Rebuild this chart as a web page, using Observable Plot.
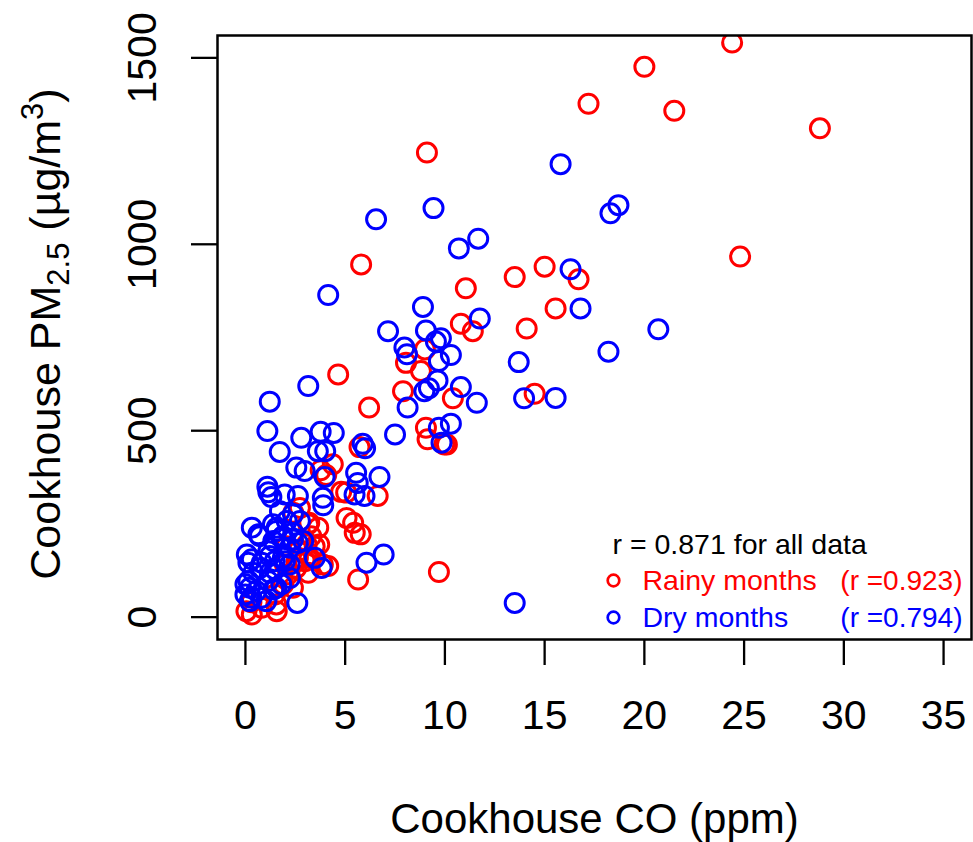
<!DOCTYPE html>
<html>
<head>
<meta charset="utf-8">
<script src="https://cdn.jsdelivr.net/npm/d3@7"></script>
<script src="https://cdn.jsdelivr.net/npm/@observablehq/plot@0.6"></script>
<style>
html, body { margin: 0; padding: 0; background: #fff; }
#chart svg { display: block; }
</style>
</head>
<body>
<div id="chart"></div>
<script>
// ---- data ----
const rainyCO = [24.4, 20.0, 17.2, 21.5, 28.8, 24.8, 13.5, 15.0, 16.7, 15.55, 14.1, 11.05, 10.8, 11.4, 9.0, 8.05, 8.8, 7.9, 10.4, 14.5,
  9.05, 9.13, 9.97, 10.1, 9.7, 9.1, 5.8, 4.65, 6.2, 5.72, 4.38, 3.77, 4.05, 4.8, 5.05, 6.63, 5.07, 5.4, 5.78, 5.48,
  3.65, 3.7, 4.15, 5.65, 2.4, 2.73, 3.15, 3.3, 3.07, 2.65, 2.98, 3.15, 2.15, 1.9, 1.48, 1.57, 0.32, 0.82, 1.98, 2.57,
  3.2, 3.47, 2.05, 2.63, 3.22, 3.88, 2.55, 2.38, 1.55, 0.05, 0.3];
const rainyPM = [1541, 1476, 1377, 1358, 1311, 967, 912, 940, 906, 828, 774, 882, 787, 767, 718, 682, 660, 606, 587, 599,
  508, 477, 463, 463, 121, 1246, 946, 651, 562, 456, 410, 394, 381, 336, 334, 325, 266, 253, 222, 226,
  240, 195, 137, 101, 280, 293, 249, 217, 195, 177, 150, 119, 115, 88, 61, 16, 7, 25, 141, 150,
  253, 190, 190, 159, 159, 141, 132, 79, 34, 16, 40];
const dryCO = [15.8, 18.7, 18.3, 16.3, 16.8, 20.7, 18.2, 13.7, 8.9, 11.75, 9.05, 9.8, 9.55, 7.97, 8.1, 10.3, 9.7, 9.63, 9.2, 8.97,
  10.8, 11.6, 8.13, 13.97, 15.55, 9.7, 10.3, 9.83, 7.5, 13.5, 9.43, 6.55, 10.7, 11.67, 4.15, 7.15, 3.15, 1.22, 1.1, 2.8,
  3.77, 4.43, 5.88, 6.0, 1.72, 3.63, 4.0, 2.55, 2.97, 3.97, 5.55, 5.63, 6.72, 5.47, 5.97, 1.1, 1.15, 1.97, 2.63, 3.88,
  1.3, 3.9, 3.48, 3.82, 6.07, 6.93, 2.6, 0.32, 0.65, 0.07, 0.32, 0.15, 1.73, 2.07, 2.4, 1.57, 1.82, 2.23, 2.73, 2.9,
  1.4, 1.15, 0.82, 1.98, 1.48, 2.23, 0.4, 0.15, 0.0, 0.0, 0.3, 0.8, 1.4, 1.8, 1.15, 2.38, 1.38, 1.55, 1.88, 2.38,
  2.63, 1.22, 1.47, 1.88, 2.22, 0.72, 1.22, 0.22, 0.55, 1.55, 1.05, 0.22, 0.72];
const dryPM = [1215, 1105, 1083, 933, 828, 772, 712, 684, 832, 801, 769, 748, 739, 723, 705, 703, 687, 635, 614, 606,
  617, 575, 562, 587, 588, 508, 519, 468, 490, 38, 1097, 1067, 989, 1015, 864, 767, 620, 578, 499, 481,
  497, 494, 465, 453, 443, 445, 445, 401, 392, 376, 387, 360, 376, 329, 325, 350, 335, 329, 325, 320,
  322, 300, 159, 132, 146, 168, 38, 240, 222, 168, 155, 146, 284, 258, 226, 240, 213, 186, 258, 204,
  204, 177, 146, 150, 128, 105, 119, 97, 88, 61, 52, 52, 74, 88, 97, 276, 249, 231, 217, 208,
  199, 164, 150, 159, 141, 132, 119, 79, 70, 79, 43, 43, 217];
const xTicks = [0, 5, 10, 15, 20, 25, 30, 35];
const yTicks = [0, 500, 1000, 1500];
const xTitle = ["Cookhouse CO (ppm)"];
const allLabel = ["r = 0.871 for all data"];
const seasonLabels = ["Rainy months", "Dry months"];
const seasonR = ["(r =0.923)", "(r =0.794)"];

// ---- derived tables ----
const rainy = rainyCO.map((x, i) => ({x, y: rainyPM[i]}));
const dry = dryCO.map((x, i) => ({x, y: dryPM[i]}));
const RED = "#ff0000", BLUE = "#0000ff";
const FONT = "'Liberation Sans', Arial, Helvetica, sans-serif";

const chart = Plot.plot({
  width: 973,
  height: 842,
  marginLeft: 217,
  marginRight: 2,
  marginTop: 35,
  marginBottom: 203,
  style: {background: "#fff", fontFamily: FONT, fontSize: "41px", color: "black"},
  x: {domain: [-1.4, 36.4]},
  y: {domain: [-60, 1560]},
  marks: [
    Plot.axisX({ticks: xTicks, tickSize: 26, tickFormat: () => "", label: null, stroke: "black", strokeWidth: 2.3}),
    Plot.axisY({ticks: yTicks, tickSize: 26, tickFormat: () => "", label: null, stroke: "black", strokeWidth: 2.3}),
    Plot.text(xTicks, {x: d => d, text: d => String(d), frameAnchor: "bottom", dy: 89, lineAnchor: "bottom", textAnchor: "middle", fontSize: 41, fill: "black"}),
    Plot.text(yTicks, {y: d => d, text: d => String(d), frameAnchor: "left", dx: -62, rotate: -90, lineAnchor: "bottom", textAnchor: "middle", fontSize: 41, fill: "black"}),
    Plot.text(xTitle, {text: d => d, frameAnchor: "bottom", dy: 193, lineAnchor: "bottom", textAnchor: "middle", fontSize: 42, fill: "black"}),
    Plot.dot(rainy, {x: "x", y: "y", r: 9.5, stroke: RED, strokeWidth: 3, fill: "none", clip: true}),
    Plot.dot(dry, {x: "x", y: "y", r: 9.5, stroke: BLUE, strokeWidth: 3, fill: "none", clip: true}),
    Plot.frame({stroke: "black", strokeWidth: 2.5}),
    // legend (bottom-right inside the frame)
    Plot.text(allLabel, {text: d => d, frameAnchor: "bottom-right", dx: -359, dy: -86, textAnchor: "start", lineAnchor: "bottom", fontSize: 28.5, fill: "black", style: "word-spacing:2px"}),
    Plot.dot([0], {frameAnchor: "bottom-right", dx: -358, dy: -59, r: 5.8, stroke: RED, strokeWidth: 2.7, fill: "none"}),
    Plot.dot([0], {frameAnchor: "bottom-right", dx: -358, dy: -22, r: 5.8, stroke: BLUE, strokeWidth: 2.7, fill: "none"}),
    Plot.text([seasonLabels[0]], {text: d => d, frameAnchor: "bottom-right", dx: -329, dy: -50, textAnchor: "start", lineAnchor: "bottom", fontSize: 28.5, fill: RED}),
    Plot.text([seasonLabels[1]], {text: d => d, frameAnchor: "bottom-right", dx: -329, dy: -13, textAnchor: "start", lineAnchor: "bottom", fontSize: 28.5, fill: BLUE}),
    Plot.text([seasonR[0]], {text: d => d, frameAnchor: "bottom-right", dx: -9, dy: -50, textAnchor: "end", lineAnchor: "bottom", fontSize: 28, fill: RED}),
    Plot.text([seasonR[1]], {text: d => d, frameAnchor: "bottom-right", dx: -9, dy: -13, textAnchor: "end", lineAnchor: "bottom", fontSize: 28, fill: BLUE})
  ]
});

document.getElementById("chart").appendChild(chart);

// y-axis title with subscript / superscript
const svg = d3.select(chart);
const yt = svg.append("text")
  .attr("transform", "translate(60,334) rotate(-90)")
  .attr("text-anchor", "middle")
  .attr("font-family", FONT)
  .attr("font-size", 43)
  .attr("fill", "black");
yt.append("tspan").text("Cookhouse PM");
yt.append("tspan").attr("font-size", 31).attr("dy", 9).text("2.5");
yt.append("tspan").attr("dy", -9).text(" (µg/m");
yt.append("tspan").attr("font-size", 31).attr("dy", -17).text("3");
yt.append("tspan").attr("dy", 17).text(")");
</script>
</body>
</html>
